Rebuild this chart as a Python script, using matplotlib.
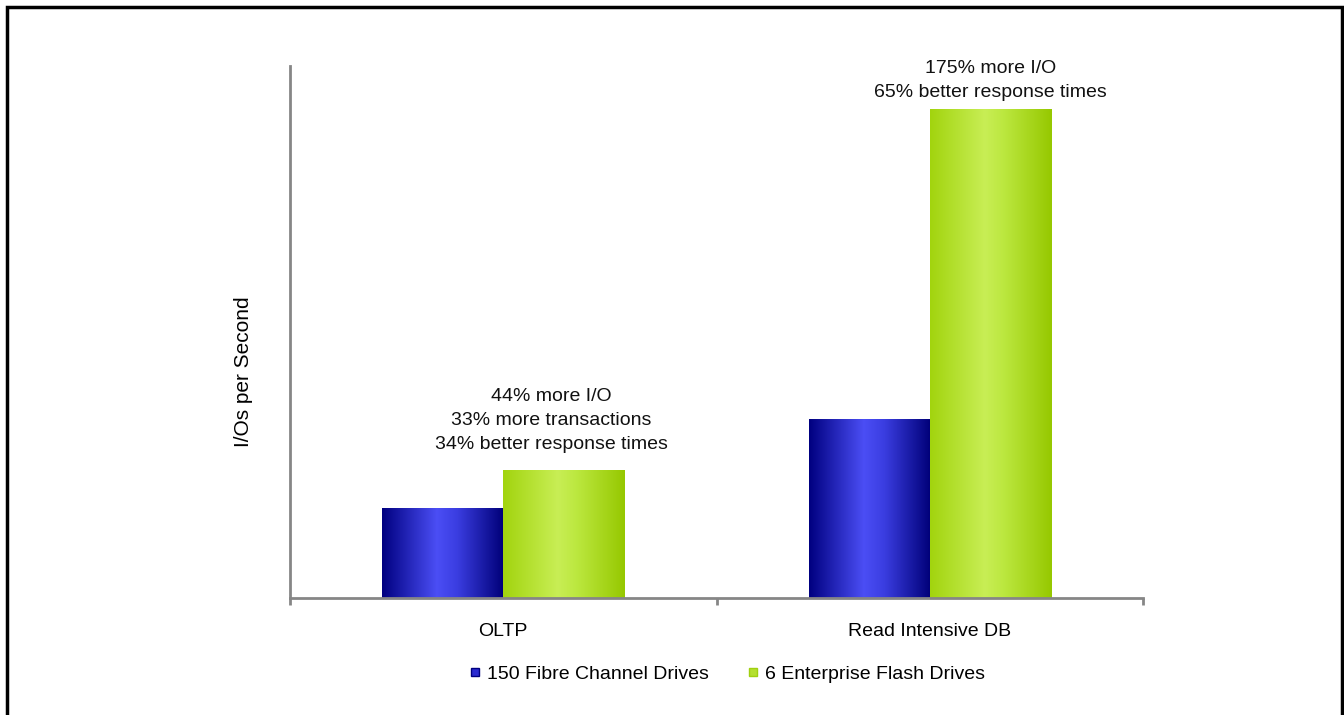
import matplotlib
matplotlib.use("Agg")
import matplotlib.pyplot as plt
import numpy as np
from matplotlib.colors import LinearSegmentedColormap
from matplotlib.lines import Line2D
from matplotlib.patches import Rectangle

plt.rcParams['font.family'] = ['Liberation Sans', 'DejaVu Sans']

categories = ["OLTP", "Read Intensive DB"]
series_names = ["150 Fibre Channel Drives", "6 Enterprise Flash Drives"]
fibre_values = [90, 179]
flash_values = [128, 489]
annotations = ["44% more I/O\n33% more transactions\n34% better response times",
               "175% more I/O\n65% better response times"]
y_label = "I/Os per Second"

W, H = 1344, 715
fig = plt.figure(figsize=(W / 100, H / 100), dpi=100)
ax = fig.add_axes([290 / W, 1 - 598 / H, (1143 - 290) / W, (598 - 66) / H])

blue_cmap = LinearSegmentedColormap.from_list(
    "b", [(0, "#000080"), (0.45, "#4b4ef5"), (0.62, "#3a3de0"), (1, "#000078")])
green_cmap = LinearSegmentedColormap.from_list(
    "g", [(0, "#a2d40e"), (0.45, "#c8ee55"), (0.6, "#bce840"), (1, "#96c800")])

x = np.arange(len(categories))
bw = 0.284
b1 = ax.bar(x - bw / 2, fibre_values, bw, color="none", edgecolor="none")
b2 = ax.bar(x + bw / 2, flash_values, bw, color="none", edgecolor="none")

grad = np.linspace(0, 1, 256).reshape(1, -1)
for bars, cmap in ((b1, blue_cmap), (b2, green_cmap)):
    for r in bars:
        x0, y0 = r.get_x(), r.get_y()
        w, h = r.get_width(), r.get_height()
        im = ax.imshow(grad, cmap=cmap, aspect="auto",
                       extent=[x0, x0 + w, y0, y0 + h], zorder=2)
        im.set_clip_path(r)

ax.set_xlim(-0.5, len(categories) - 0.5)
ax.set_ylim(0, 532)

text_dx = [-0.03, 0.0]
text_dy = [17, 8]
for i, txt in enumerate(annotations):
    ax.text(x[i] + bw / 2 + text_dx[i], flash_values[i] + text_dy[i], txt,
            ha="center", va="bottom", fontsize=14, linespacing=1.53, color="#111111")

for s in ["top", "right"]:
    ax.spines[s].set_visible(False)
for s in ["left", "bottom"]:
    ax.spines[s].set_color("#868686")
    ax.spines[s].set_linewidth(2)

ax.set_yticks([])
ax.set_xticks(x)
ax.set_xticklabels(categories, fontsize=14)
ax.tick_params(axis="x", which="major", length=0, pad=18)
ax.set_xticks([-0.5, 0.5, 1.5], minor=True)
ax.tick_params(axis="x", which="minor", length=5, width=2, color="#868686")

ax.set_ylabel(y_label, fontsize=15)
ax.yaxis.set_label_coords(-0.043, 0.425)

handles = [Line2D([], [], marker="s", linestyle="none", markersize=6,
                  markerfacecolor="#2a2ad0", markeredgecolor="#000080"),
           Line2D([], [], marker="s", linestyle="none", markersize=6,
                  markerfacecolor="#b4e030", markeredgecolor="#a0d010")]
fig.legend(handles, series_names, loc="center", bbox_to_anchor=(727 / W, 1 - 674 / H),
           ncol=2, frameon=False, fontsize=14, handlelength=0.6, handletextpad=0.3,
           columnspacing=2.0)

fig.add_artist(Rectangle((7 / W, -0.01), (1342 - 7) / W, 1 - 7 / H + 0.01,
                         transform=fig.transFigure, fill=False,
                         edgecolor="black", linewidth=2.5))

fig.savefig("out.png", dpi=100)
